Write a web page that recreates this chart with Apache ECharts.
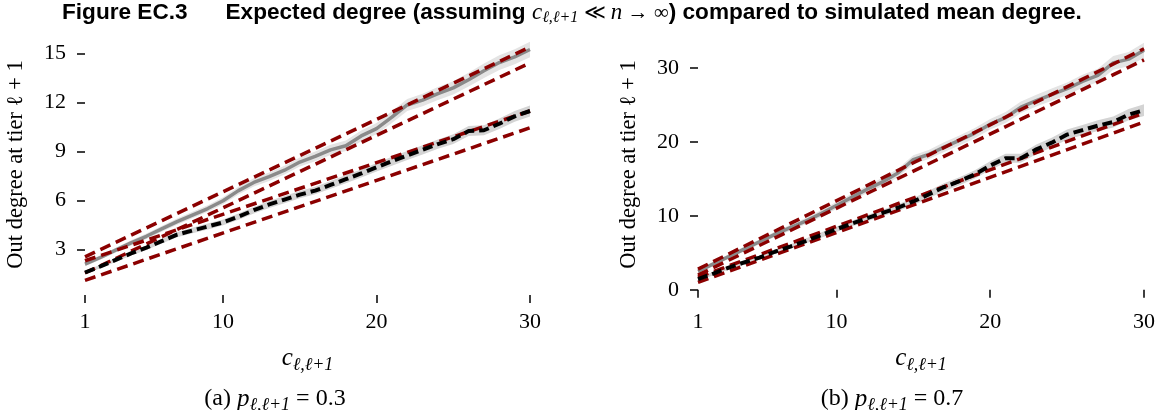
<!DOCTYPE html>
<html>
<head>
<meta charset="utf-8">
<script src="https://cdn.jsdelivr.net/npm/echarts@6/dist/echarts.min.js"></script>
<style>
  html, body { margin: 0; padding: 0; background: #fff; }
  #chart { width: 1164px; height: 410px; }
</style>
</head>
<body>
<div id="chart"></div>
<script>
// c_{l,l+1} values
const xs = [1, 2, 3, 4, 5, 6, 7, 8, 9, 10, 11, 12, 13, 14, 15, 16, 17, 18, 19, 20, 21, 22, 23, 24, 25, 26, 27, 28, 29, 30];

// (a) p = 0.3
const leftGray = [2.09, 2.5, 2.95, 3.4, 3.8, 4.25, 4.7, 5.1, 5.5, 5.98, 6.6, 7.1, 7.45, 7.85, 8.35, 8.7, 9.1, 9.35, 9.95, 10.4, 11.1, 11.85, 12.15, 12.55, 12.9, 13.4, 13.95, 14.45, 14.8, 15.25];
const leftGrayCi = [0.12, 0.14, 0.15, 0.16, 0.17, 0.18, 0.19, 0.2, 0.2, 0.22, 0.24, 0.25, 0.26, 0.27, 0.28, 0.3, 0.31, 0.32, 0.33, 0.34, 0.36, 0.37, 0.38, 0.4, 0.41, 0.42, 0.44, 0.45, 0.46, 0.48];
const leftBlack = [1.58, 1.95, 2.35, 2.75, 3.1, 3.5, 3.9, 4.15, 4.4, 4.65, 5.0, 5.4, 5.75, 6.05, 6.35, 6.6, 6.95, 7.3, 7.65, 8.03, 8.4, 8.75, 9.1, 9.45, 9.75, 10.25, 10.3, 10.7, 11.15, 11.48];
const leftBlackCi = [0.1, 0.11, 0.12, 0.13, 0.14, 0.15, 0.16, 0.17, 0.18, 0.18, 0.19, 0.2, 0.21, 0.22, 0.22, 0.23, 0.24, 0.25, 0.25, 0.26, 0.27, 0.28, 0.28, 0.29, 0.3, 0.31, 0.31, 0.32, 0.33, 0.34];

// (b) p = 0.7
const rightGray = [2.5, 3.5, 4.5, 5.5, 6.5, 7.5, 8.4, 9.3, 10.3, 11.4, 12.5, 13.6, 14.6, 15.8, 17.6, 18.3, 19.3, 20.2, 21.2, 22.4, 23.3, 24.7, 25.6, 26.4, 27.2, 28.2, 29.0, 30.7, 31.2, 32.4];
const rightGrayCi = [0.25, 0.27, 0.3, 0.32, 0.35, 0.37, 0.4, 0.42, 0.45, 0.47, 0.5, 0.52, 0.55, 0.57, 0.6, 0.62, 0.65, 0.67, 0.7, 0.72, 0.75, 0.77, 0.8, 0.82, 0.85, 0.88, 0.9, 0.93, 0.96, 1.0];
const rightBlack = [1.44, 2.2, 3.0, 3.7, 4.35, 5.15, 5.85, 6.6, 7.4, 8.2, 8.95, 9.7, 10.4, 11.1, 11.95, 12.9, 13.9, 14.7, 15.6, 16.8, 17.8, 17.8, 19.0, 19.9, 21.0, 21.6, 22.2, 22.7, 23.7, 24.3];
const rightBlackCi = [0.2, 0.22, 0.24, 0.26, 0.28, 0.3, 0.32, 0.34, 0.36, 0.38, 0.4, 0.42, 0.44, 0.46, 0.48, 0.5, 0.52, 0.54, 0.56, 0.58, 0.6, 0.62, 0.64, 0.66, 0.68, 0.7, 0.72, 0.74, 0.77, 0.8];

// expected degree bounds (straight lines, endpoints at c = 1 and c = 30)
const redX = [1, 30];
const leftRedUpperHi = [2.54, 15.4];
const leftRedUpperLo = [1.55, 14.43];
const leftRedLowerHi = [2.3, 11.48];
const leftRedLowerLo = [1.1, 10.45];
const rightRedUpperHi = [2.8, 32.6];
const rightRedUpperLo = [2.0, 31.1];
const rightRedLowerHi = [1.7, 23.9];
const rightRedLowerLo = [1.0, 22.7];

const xTicks = [1, 10, 20, 30];
const leftYTicks = [3, 6, 9, 12, 15];
const rightYTicks = [0, 10, 20, 30];

const SERIF = "'Liberation Serif', 'DejaVu Serif', serif";
const SANS = "'Liberation Sans', Arial, sans-serif";
const RED = "#8b0000";
const GRAY_BAND = "#e4e4e4";
const BLACK_BAND = "#d4d4d4";

function pairs(xv, yv) {
  return xv.map((x, i) => [x, yv[i]]);
}

// confidence band drawn as one polygon through the axis scales
function band(idx, mean, ci, color) {
  const lo = mean.map((m, k) => m - ci[k]);
  const hi = mean.map((m, k) => m + ci[k]);
  return {
    type: "custom", xAxisIndex: idx, yAxisIndex: idx, silent: true, z: 1,
    data: pairs(xs, mean),
    encode: { x: 0, y: 1 },
    renderItem: (params, api) => {
      if (params.dataIndex !== 0) return null;
      const top = xs.map((x, k) => api.coord([x, hi[k]]));
      const bottom = xs.map((x, k) => api.coord([x, lo[k]])).reverse();
      return { type: "polygon", shape: { points: top.concat(bottom) }, style: { fill: color } };
    },
  };
}

function line(idx, xv, yv, color, width, dash) {
  return {
    type: "line", xAxisIndex: idx, yAxisIndex: idx, z: 3,
    data: pairs(xv, yv), symbol: "none", silent: true,
    lineStyle: { color: color, width: width, type: dash || "solid", cap: "butt" },
  };
}

function xAxisOf(idx) {
  return {
    type: "value", gridIndex: idx, min: 1, max: 30,
    name: "{c|c}{s|ℓ,ℓ+1}", nameLocation: "middle", nameGap: 47,
    nameTextStyle: {
      rich: {
        c: { fontFamily: SERIF, fontStyle: "italic", fontSize: 25, lineHeight: 32, verticalAlign: "middle", color: "#000" },
        s: { fontFamily: SERIF, fontStyle: "italic", fontSize: 18, lineHeight: 32, verticalAlign: "bottom", color: "#000" },
      },
    },
    axisLine: { show: false },
    axisTick: { show: true, customValues: xTicks, length: 8, lineStyle: { color: "#000", width: 1.5 } },
    axisLabel: { customValues: xTicks, margin: 16, fontFamily: SERIF, fontSize: 22, color: "#000" },
    splitLine: { show: false },
  };
}

function yAxisOf(idx, min, max, ticks) {
  return {
    type: "value", gridIndex: idx, min: min, max: max,
    name: "Out degree at tier ℓ + 1", nameLocation: "middle", nameGap: 57,
    nameTextStyle: { fontFamily: SERIF, fontSize: 22.5, color: "#000" },
    axisLine: { show: false },
    axisTick: { show: true, customValues: ticks, length: 8, lineStyle: { color: "#000", width: 1.5 } },
    axisLabel: { customValues: ticks, margin: 19, fontFamily: SERIF, fontSize: 22, color: "#000" },
    splitLine: { show: false },
  };
}

function caption(x, letter, val) {
  return {
    type: "text", x: x, y: 399,
    style: {
      text: "{a|(" + letter + ") }{p|p}{s|ℓ,ℓ+1}{a| = " + val + "}",
      textAlign: "center", textVerticalAlign: "middle",
      rich: {
        a: { fontFamily: SERIF, fontSize: 24, lineHeight: 30, verticalAlign: "middle", fill: "#000" },
        p: { fontFamily: SERIF, fontStyle: "italic", fontSize: 25, lineHeight: 30, verticalAlign: "middle", fill: "#000" },
        s: { fontFamily: SERIF, fontStyle: "italic", fontSize: 18, lineHeight: 30, verticalAlign: "bottom", fill: "#000" },
      },
    },
  };
}

const option = {
  animation: false,
  backgroundColor: "#fff",
  grid: [
    { left: 85, right: 634, top: 34, bottom: 115 },
    { left: 698, right: 20, top: 34, bottom: 115 },
  ],
  xAxis: [xAxisOf(0), xAxisOf(1)],
  yAxis: [yAxisOf(0, 0.2, 16.2, leftYTicks), yAxisOf(1, -0.7, 34.6, rightYTicks)],
  series: [
    band(0, leftGray, leftGrayCi, GRAY_BAND),
    band(0, leftBlack, leftBlackCi, BLACK_BAND),
    line(0, xs, leftGray, "#8a8a8a", 3.5),
    line(0, redX, leftRedUpperHi, RED, 3.5, [11, 6]),
    line(0, redX, leftRedUpperLo, RED, 3.5, [11, 6]),
    line(0, redX, leftRedLowerHi, RED, 3.5, [11, 6]),
    line(0, redX, leftRedLowerLo, RED, 3.5, [11, 6]),
    line(0, xs, leftBlack, "#000", 4, [10, 5]),

    band(1, rightGray, rightGrayCi, GRAY_BAND),
    band(1, rightBlack, rightBlackCi, BLACK_BAND),
    line(1, xs, rightGray, "#8a8a8a", 3.5),
    line(1, redX, rightRedUpperHi, RED, 3.5, [11, 6]),
    line(1, redX, rightRedUpperLo, RED, 3.5, [11, 6]),
    line(1, redX, rightRedLowerHi, RED, 3.5, [11, 6]),
    line(1, redX, rightRedLowerLo, RED, 3.5, [11, 6]),
    line(1, xs, rightBlack, "#000", 4, [10, 5]),
  ],
  graphic: [
    {
      type: "text", x: 62, y: 13,
      style: {
        text: "{b|Figure EC.3}{g| }{b|Expected degree (assuming }{m|c}{s|ℓ,ℓ+1}{r| ≪ }{m|n}{r| → ∞}{b|) compared to simulated mean degree.}",
        textAlign: "left", textVerticalAlign: "middle",
        rich: {
          b: { fontFamily: SANS, fontWeight: "bold", fontSize: 22.6, lineHeight: 26, verticalAlign: "middle", fill: "#000" },
          g: { fontFamily: SANS, fontSize: 22, width: 38, lineHeight: 26, verticalAlign: "middle" },
          m: { fontFamily: SERIF, fontStyle: "italic", fontSize: 23, lineHeight: 26, verticalAlign: "middle", fill: "#000" },
          s: { fontFamily: SERIF, fontStyle: "italic", fontSize: 16, lineHeight: 26, verticalAlign: "bottom", fill: "#000" },
          r: { fontFamily: SERIF, fontSize: 21, lineHeight: 26, verticalAlign: "middle", fill: "#000" },
        },
      },
    },
    caption(275, "a", "0.3"),
    caption(892, "b", "0.7"),
  ],
};

const chart = echarts.init(document.getElementById("chart"));
chart.setOption(option);
</script>
</body>
</html>
